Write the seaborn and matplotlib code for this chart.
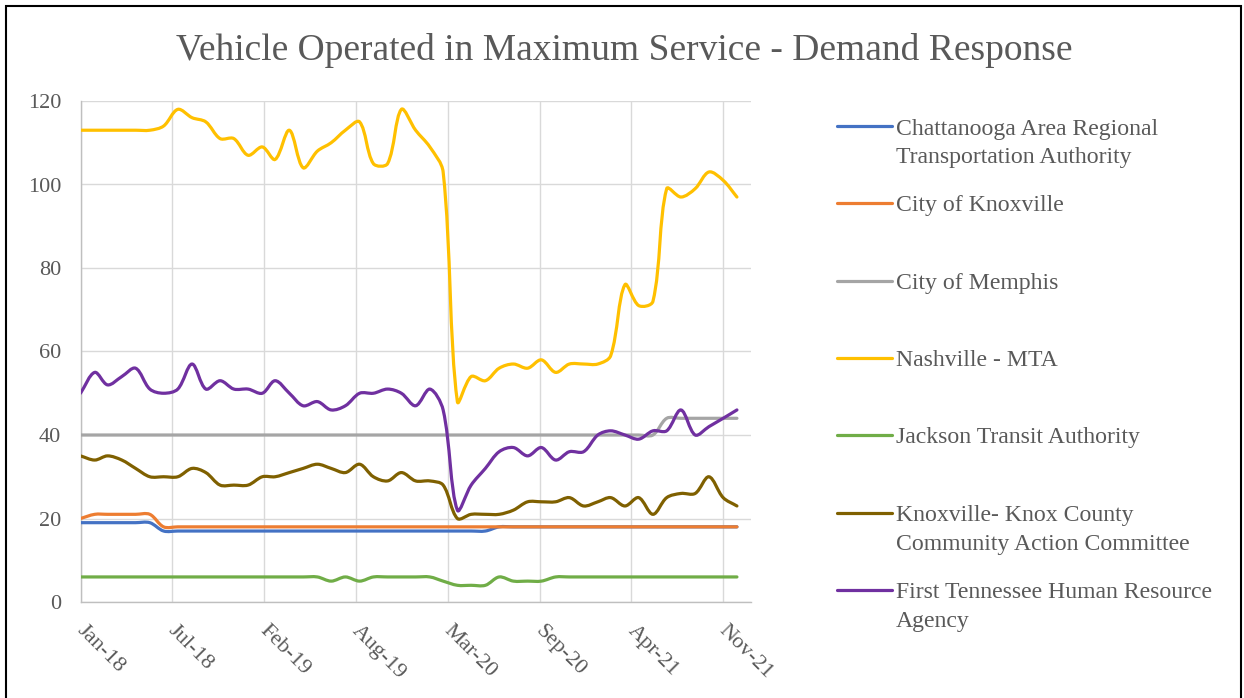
import numpy as np
import pandas as pd
import matplotlib
matplotlib.use("Agg")
import matplotlib.pyplot as plt
import matplotlib.dates as mdates
import matplotlib.transforms as mtransforms
from matplotlib.path import Path
from matplotlib.patches import PathPatch, Rectangle
from matplotlib.lines import Line2D
import seaborn as sns

# ---------------- data ----------------
months = pd.date_range("2018-01-01", "2021-12-01", freq="MS")

chattanooga = [19, 19, 19, 19, 19, 19, 17, 17, 17, 17, 17, 17, 17, 17, 17, 17,
               17, 17, 17, 17, 17, 17, 17, 17, 17, 17, 17, 17, 17, 17, 18, 18,
               18, 18, 18, 18, 18, 18, 18, 18, 18, 18, 18, 18, 18, 18, 18, 18]
knoxville = [20, 21, 21, 21, 21, 21, 18, 18, 18, 18, 18, 18, 18, 18, 18, 18,
             18, 18, 18, 18, 18, 18, 18, 18, 18, 18, 18, 18, 18, 18, 18, 18,
             18, 18, 18, 18, 18, 18, 18, 18, 18, 18, 18, 18, 18, 18, 18, 18]
memphis = [40, 40, 40, 40, 40, 40, 40, 40, 40, 40, 40, 40, 40, 40, 40, 40,
           40, 40, 40, 40, 40, 40, 40, 40, 40, 40, 40, 40, 40, 40, 40, 40,
           40, 40, 40, 40, 40, 40, 40, 40, 40, 40, 44, 44, 44, 44, 44, 44]
nashville = [113, 113, 113, 113, 113, 113, 114, 118, 116, 115, 111, 111, 107, 109, 106, 113,
             104, 108, 110, 113, 115, 105, 105, 118, 113, 109, 103, 48, 54, 53, 56, 57,
             56, 58, 55, 57, 57, 57, 59, 76, 71, 72, 99, 97, 99, 103, 101, 97]
jackson = [6, 6, 6, 6, 6, 6, 6, 6, 6, 6, 6, 6, 6, 6, 6, 6,
           6, 6, 5, 6, 5, 6, 6, 6, 6, 6, 5, 4, 4, 4, 6, 5,
           5, 5, 6, 6, 6, 6, 6, 6, 6, 6, 6, 6, 6, 6, 6, 6]
knox_cac = [35, 34, 35, 34, 32, 30, 30, 30, 32, 31, 28, 28, 28, 30, 30, 31,
            32, 33, 32, 31, 33, 30, 29, 31, 29, 29, 28, 20, 21, 21, 21, 22,
            24, 24, 24, 25, 23, 24, 25, 23, 25, 21, 25, 26, 26, 30, 25, 23]
first_tn = [50, 55, 52, 54, 56, 51, 50, 51, 57, 51, 53, 51, 51, 50, 53, 50,
            47, 48, 46, 47, 50, 50, 51, 50, 47, 51, 46, 22, 28, 32, 36, 37,
            35, 37, 34, 36, 36, 40, 41, 40, 39, 41, 41, 46, 40, 42, 44, 46]

series_names = [
    "Chattanooga Area Regional\nTransportation Authority",
    "City of Knoxville",
    "City of Memphis",
    "Nashville - MTA",
    "Jackson Transit Authority",
    "Knoxville- Knox County\nCommunity Action Committee",
    "First Tennessee Human Resource\nAgency",
]
series_values = [chattanooga, knoxville, memphis, nashville, jackson, knox_cac, first_tn]
colors = ["#4472C4", "#ED7D31", "#A5A5A5", "#FFC000", "#70AD47", "#7F6000", "#7030A0"]

tick_labels = ["Jan-18", "Jul-18", "Feb-19", "Aug-19", "Mar-20", "Sep-20", "Apr-21", "Nov-21"]
y_ticks = [0, 20, 40, 60, 80, 100, 120]
title = "Vehicle Operated in Maximum Service - Demand Response"

# ---------------- style ----------------
sns.set_theme(style="white")
plt.rcParams["font.family"] = ["Liberation Serif", "DejaVu Serif"]
text_col = "#595959"

W, H = 1244, 698
fig = plt.figure(figsize=(W / 100, H / 100), dpi=100)
fig.patch.set_facecolor("white")


def fx(px):
    return px / W


def fy(py):
    return 1 - py / H


ax = fig.add_axes([fx(80.5), fy(602), fx(750.7) - fx(80.5), fy(101) - fy(602)])

df = pd.DataFrame({"date": months})
for name, vals in zip(series_names, series_values):
    df[name] = vals
xnum = mdates.date2num(df["date"])

# approximate screen scale (px per data unit) used only for the smoothing weights
SX = 0.459   # px per day
SY = 4.175   # px per y unit


def smooth_path(x, y, t=1.0 / 3.0):
    x = np.asarray(x, float)
    y = np.asarray(y, float)
    n = len(x)

    def dist(i, j):
        return np.hypot((x[j] - x[i]) * SX, (y[j] - y[i]) * SY)

    ca, cb = [], []  # control after / before each point
    for i in range(n):
        ip = max(i - 1, 0)
        inn = min(i + 1, n - 1)
        tx, ty = x[inn] - x[ip], y[inn] - y[ip]
        dp = dist(ip, i) if i > 0 else 0.0
        dn = dist(i, inn) if i < n - 1 else 0.0
        s = dp + dn
        if s == 0:
            fa = fb = 0.0
        else:
            fa = t * dn / s
            fb = t * dp / s
        ca.append((x[i] + tx * fa, y[i] + ty * fa))
        cb.append((x[i] - tx * fb, y[i] - ty * fb))
    verts = [(x[0], y[0])]
    codes = [Path.MOVETO]
    for i in range(n - 1):
        verts += [ca[i], cb[i + 1], (x[i + 1], y[i + 1])]
        codes += [Path.CURVE4] * 3
    return Path(verts, codes)


for name, col in zip(series_names, colors):
    patch = PathPatch(smooth_path(xnum, df[name].values), fill=False, edgecolor=col,
                      lw=2.3, capstyle="round", joinstyle="round", zorder=3)
    ax.add_patch(patch)

start = pd.Timestamp("2018-01-01")
tick_dates = [start + pd.Timedelta(days=200 * i) for i in range(len(tick_labels))]
ax.set_xlim(mdates.date2num(start), mdates.date2num(pd.Timestamp("2021-12-31")))
ax.set_ylim(0, 120)
ax.set_xticks(mdates.date2num(tick_dates))
ax.set_xticklabels(tick_labels, rotation=-45, ha="left", va="top",
                   rotation_mode="anchor", fontsize=16, color=text_col)
ax.set_yticks(y_ticks)
ax.set_yticklabels([str(v) for v in y_ticks], fontsize=16, color=text_col)
ax.tick_params(axis="x", length=0, pad=14)
ax.tick_params(axis="y", length=0, pad=14)
shift = mtransforms.ScaledTranslation(4 / 72, 0, fig.dpi_scale_trans)
for lab in ax.get_xticklabels():
    lab.set_transform(lab.get_transform() + shift)

ax.grid(True, color="#D9D9D9", lw=1.0)
ax.set_axisbelow(True)
for s in ["top", "right"]:
    ax.spines[s].set_visible(False)
for s in ["left", "bottom"]:
    ax.spines[s].set_color("#BFBFBF")
    ax.spines[s].set_linewidth(1.0)
ax.set_facecolor("white")

# title
fig.text(fx(624), fy(60), title, ha="center", va="baseline", fontsize=27, color=text_col)

# legend (Excel style: handle aligned with first text line)
leg_y = [126, 203, 281, 358, 435, 513, 590]
for name, col, ly in zip(series_names, colors, leg_y):
    fig.add_artist(Line2D([fx(837), fx(892)], [fy(ly), fy(ly)], color=col, lw=2.3,
                          transform=fig.transFigure, solid_capstyle="round"))
    for k, line in enumerate(name.split("\n")):
        fig.text(fx(896), fy(ly + 8.5 + 28.5 * k), line, ha="left", va="baseline",
                 fontsize=17.1, color=text_col)

# chart border
fig.add_artist(Rectangle((fx(6), -0.05), fx(1241) - fx(6), fy(5.5) + 0.05, fill=False,
                         edgecolor="black", lw=1.5, transform=fig.transFigure))

fig.savefig("out.png", dpi=100, facecolor="white")
